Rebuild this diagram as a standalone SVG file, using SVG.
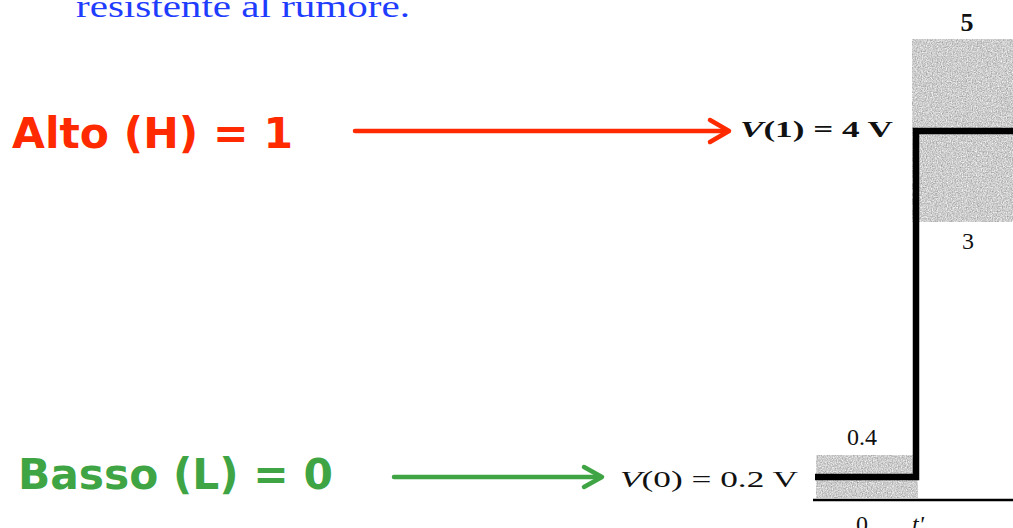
<svg xmlns="http://www.w3.org/2000/svg" width="1013" height="528" viewBox="0 0 1013 528">
<style>
.lbl{font-family:"DejaVu Sans",Verdana,sans-serif;font-weight:bold;font-size:42px}
.ser{font-family:"Liberation Serif","Times New Roman",serif;fill:#111}
.red{fill:#ff2a00}
.grn{fill:#3fa544}
.ared{stroke:#ff2a00;stroke-width:4.5;fill:none;stroke-linecap:round;stroke-linejoin:round}
.agrn{stroke:#3fa544;stroke-width:4.5;fill:none;stroke-linecap:round;stroke-linejoin:round}
.sig{stroke:#000;stroke-width:6.5;fill:none;stroke-linejoin:miter}
</style>
<defs>
<filter id="grain" x="0" y="0" width="1" height="1" color-interpolation-filters="sRGB">
<feTurbulence type="fractalNoise" baseFrequency="0.8" numOctaves="2" seed="4" result="n"/>
<feColorMatrix in="n" type="matrix" values="0.5 0 0 0 0.55  0.5 0 0 0 0.55  0.5 0 0 0 0.55  0 0 0 0 1" result="g"/>
<feComposite in="g" in2="SourceGraphic" operator="in"/>
</filter>
</defs>
<rect width="1013" height="528" fill="#fff"/>
<text x="76" y="17" font-family="Liberation Serif,serif" font-size="31" fill="#1f3dff" textLength="334" lengthAdjust="spacingAndGlyphs">resistente al rumore.</text>

<g id="shading">
<rect x="912" y="39" width="101" height="183" fill="#ccc" filter="url(#grain)"/>
<rect x="816" y="455" width="102" height="43" fill="#ccc" filter="url(#grain)"/>
</g>

<g id="signal">
<line x1="813" y1="500" x2="1013" y2="500" stroke="#000" stroke-width="2.5"/>
<polyline class="sig" points="815,477 916,477 916,131 1013,131"/>
<text class="ser" x="967" y="31" font-size="26" font-weight="bold" text-anchor="middle">5</text>
<text class="ser" x="968" y="249" font-size="24" text-anchor="middle">3</text>
<text class="ser" x="862" y="445" font-size="24" text-anchor="middle">0.4</text>
<text class="ser" x="862" y="532" font-size="24" text-anchor="middle">0</text>
<text class="ser" x="912" y="532" font-size="24" font-style="italic">t'</text>
</g>

<g id="alto">
<text class="lbl red" x="12" y="148" textLength="281" lengthAdjust="spacingAndGlyphs">Alto (H) = 1</text>
</g>
<g id="basso">
<text class="lbl grn" x="18" y="489" textLength="315" lengthAdjust="spacingAndGlyphs">Basso (L) = 0</text>
</g>
<g id="v1">
<text class="ser" x="740" y="137" font-size="24" font-weight="bold" textLength="153" lengthAdjust="spacingAndGlyphs"><tspan font-style="italic">V</tspan>(1)  =  4 V</text>
</g>
<g id="v0">
<text class="ser" x="620" y="487" font-size="24" textLength="178" lengthAdjust="spacingAndGlyphs"><tspan font-style="italic">V</tspan>(0)  =  0.2 V</text>
</g>

<g id="connectors">
<line class="ared" x1="355" y1="131" x2="727" y2="131"/>
<polyline class="ared" points="710,120 729,131 710,142"/>
<line class="agrn" x1="394" y1="477" x2="600" y2="477"/>
<polyline class="agrn" points="584,467 602,477 584,487"/>
</g>
</svg>
